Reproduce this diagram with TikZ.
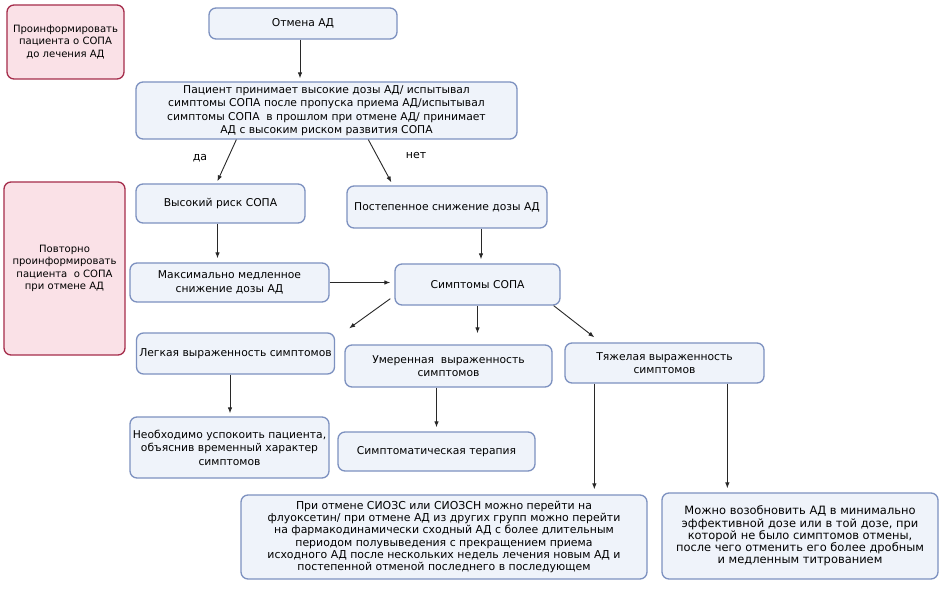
\documentclass[tikz,border=0pt]{standalone}
\usepackage{fontspec}
\setmainfont{DejaVu Sans}
\usetikzlibrary{arrows.meta,calc}
\definecolor{boxfill}{RGB}{239,243,250}
\definecolor{boxline}{RGB}{125,145,192}
\definecolor{pinkfill}{RGB}{250,225,231}
\definecolor{pinkline}{RGB}{165,45,75}
\definecolor{arrcol}{RGB}{40,40,40}
\tikzset{
  box/.style={draw=boxline, fill=boxfill, line width=1.3bp, rounded corners=7bp, align=center, inner sep=0pt, font=\fontsize{10.8}{13.5}\selectfont},
  bone/.style={font=\fontsize{10.95}{12.2}\selectfont},
  btwo/.style={font=\fontsize{11.5}{12.3}\selectfont},
  pinkbox/.style={draw=pinkline, fill=pinkfill, line width=1.3bp, rounded corners=7bp, align=center, inner sep=0pt, font=\fontsize{10.1}{12.5}\selectfont},
  arr/.style={draw=arrcol, line width=0.9bp, -{Latex[length=6bp,width=4.5bp]}},
  lbl/.style={font=\fontsize{11}{12}\selectfont, inner sep=0pt}
}
\newcommand{\bx}[6]{\node[#1, minimum width=#4bp, minimum height=#5bp] (#2) at (#3) {#6};}
\begin{document}
\begin{tikzpicture}[x=1bp,y=-1bp]
\useasboundingbox (0,0) rectangle (946,594);
\fill[white] (0,0) rectangle (946,594);
\bx{pinkbox}{p1}{65.5,42}{117}{74}{Проинформировать\\пациента о СОПА\\до лечения АД}
\bx{pinkbox}{p2}{64.5,268.5}{121}{173}{Повторно\\проинформировать\\пациента\ \ о СОПА\\при отмене АД}
\bx{box}{otm}{303,23.5}{188}{31}{Отмена АД}
\bx{box}{q}{326.5,110.5}{381}{57}{Пациент принимает высокие дозы АД/ испытывал\\симптомы СОПА после пропуска приема АД/испытывал\\симптомы СОПА\ \ в прошлом при отмене АД/ принимает\\АД с высоким риском развития СОПА}
\bx{box}{hr}{220.5,203.5}{169}{39}{Высокий риск СОПА}
\bx{box}{gr}{447,207}{200}{42}{Постепенное снижение дозы АД}
\bx{box}{ms}{229.5,282.5}{199}{39}{Максимально медленное\\снижение дозы АД}
\bx{box}{sy}{477.5,284.5}{165}{41}{Симптомы СОПА}
\bx{box}{lt}{235.5,353.5}{198}{41}{Легкая выраженность симптомов}
\bx{box}{md}{448.5,366}{207}{42}{Умеренная\ \ выраженность\\симптомов}
\bx{box}{sv}{664.5,363}{199}{40}{Тяжелая выраженность\\симптомов}
\bx{box}{calm}{229.5,447.5}{199}{61}{Необходимо успокоить пациента,\\объяснив временный характер\\симптомов}
\bx{box}{st}{436.5,451.5}{197}{39}{Симптоматическая терапия}
\bx{box,bone}{b1}{444,537}{406}{84}{При отмене СИОЗС или СИОЗСН можно перейти на\\флуоксетин/ при отмене АД из других групп можно перейти\\на фармакодинамически сходный АД с более длительным\\периодом полувыведения с прекращением приема\\исходного АД после нескольких недель лечения новым АД и\\постепенной отменой последнего в последующем}
\bx{box,btwo}{b2}{800,536}{276}{86}{Можно возобновить АД в минимально\\эффективной дозе или в той дозе, при\\которой не было симптомов отмены,\\после чего отменить его более дробным\\и медленным титрованием}
\node[lbl] (da) at (200,158) {да};
\node[lbl] (net) at (416,156) {нет};
% arrows
\draw[arr] ([xshift=-3bp]otm.south) -- ([xshift=-3bp,yshift=3bp]otm.south |- q.north);
\draw[arr] ([xshift=101bp]q.south west) -- ([xshift=82bp,yshift=2bp]hr.north west);
\draw[arr] ([xshift=233bp]q.south west) -- ([xshift=45bp,yshift=3bp]gr.north west);
\draw[arr] ([xshift=-3bp]hr.south) -- ([xshift=-3bp,yshift=4bp]hr.south |- ms.north);
\draw[arr] ([xshift=34bp]gr.south) -- ([xshift=34bp,yshift=4bp]gr.south |- sy.north);
\draw[arr] (ms.east) -- ([xshift=-4bp]ms.east -| sy.west);
\draw[arr] ([xshift=-4bp,yshift=7bp]sy.south west) -- ([xshift=14bp,yshift=4bp]lt.north east);
\draw[arr] (sy.south) -- ([yshift=11bp]sy.south |- md.north);
\draw[arr] ([xshift=-7bp]sy.south east) -- ([xshift=30bp,yshift=5bp]sv.north west);
\draw[arr] ([xshift=-5.5bp]lt.south) -- ([xshift=-5.5bp,yshift=3bp]lt.south |- calm.north);
\draw[arr] ([xshift=-12bp]md.south) -- ([xshift=-12bp,yshift=4bp]md.south |- st.north);
\draw[arr] ([xshift=30bp]sv.south west) -- ([xshift=30bp,yshift=5bp]sv.south west |- b1.north);
\draw[arr] ([xshift=163bp]sv.south west) -- ([xshift=163bp,yshift=4bp]sv.south west |- b2.north);
\end{tikzpicture}
\end{document}
